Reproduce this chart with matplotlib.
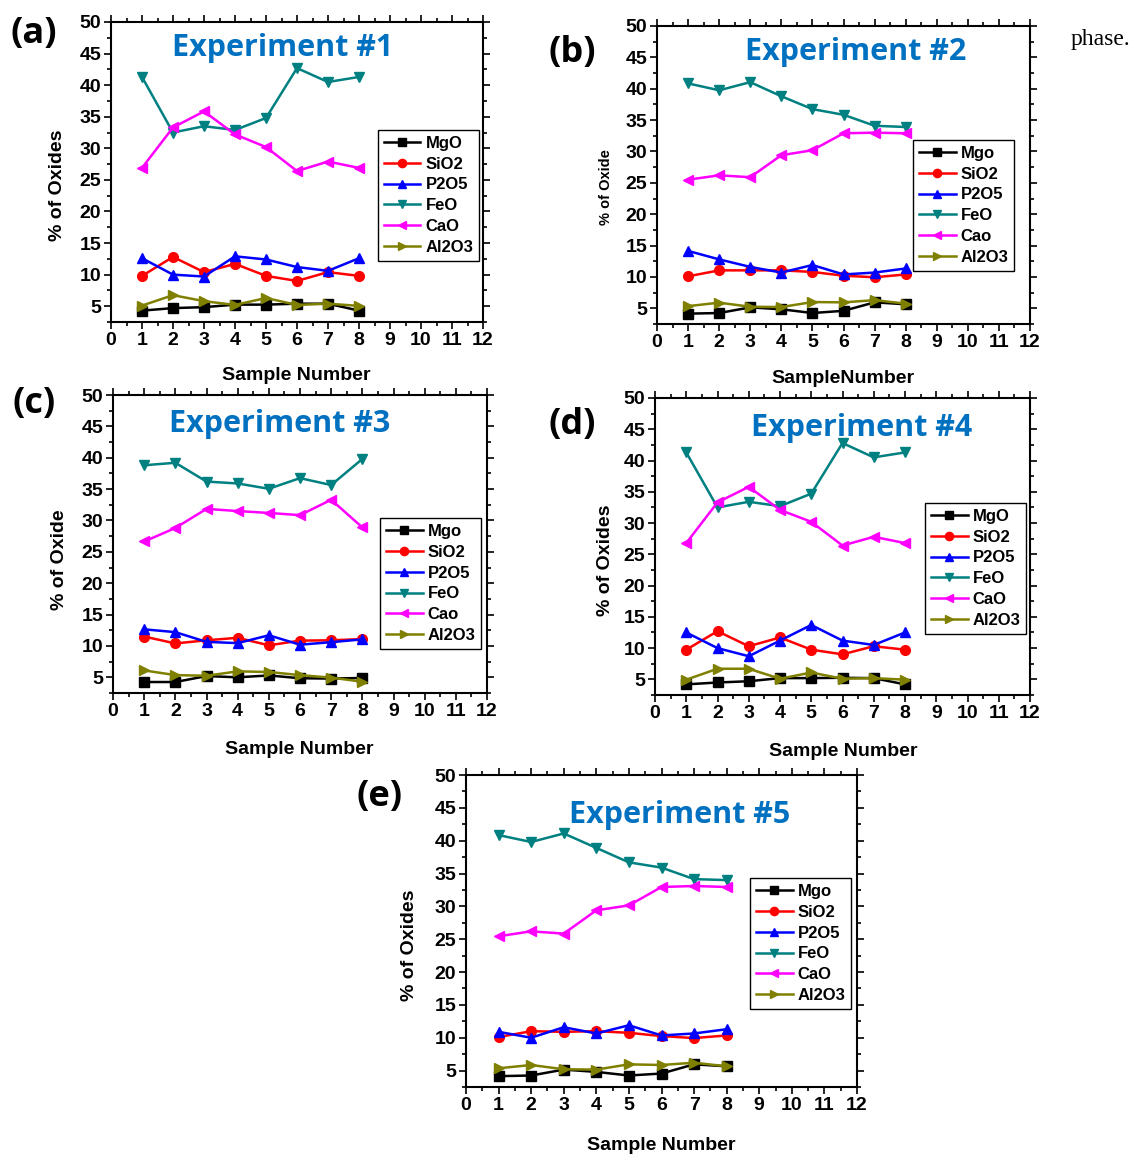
import matplotlib
matplotlib.use('Agg')
import matplotlib.pyplot as plt
from matplotlib.ticker import MultipleLocator

plt.rcParams['font.family'] = 'Liberation Sans'
plt.rcParams['font.weight'] = 'bold'

samples = [1, 2, 3, 4, 5, 6, 7, 8]

# Experiment 1
e1_mgo = [4.3, 4.7, 4.85, 5.25, 5.25, 5.4, 5.4, 4.3]
e1_sio2 = [9.8, 12.8, 10.4, 11.7, 9.8, 9.0, 10.4, 9.8]
e1_p2o5 = [12.6, 10.0, 9.7, 12.9, 12.4, 11.2, 10.6, 12.6]
e1_feo = [41.3, 32.5, 33.5, 32.9, 34.8, 42.7, 40.5, 41.3]
e1_cao = [26.9, 33.3, 35.85, 32.2, 30.2, 26.4, 27.9, 26.9]
e1_al2o3 = [5.1, 6.75, 5.8, 5.2, 6.3, 5.2, 5.4, 5.05]

# Experiment 2
e2_mgo = [4.15, 4.25, 5.15, 4.85, 4.25, 4.6, 5.95, 5.65]
e2_sio2 = [10.1, 11.05, 11.05, 11.05, 10.8, 10.2, 9.95, 10.4]
e2_p2o5 = [14.15, 12.8, 11.6, 10.7, 11.9, 10.4, 10.7, 11.35]
e2_feo = [40.85, 39.75, 41.05, 38.8, 36.75, 35.85, 34.1, 33.9]
e2_cao = [25.5, 26.2, 25.9, 29.4, 30.2, 32.9, 33.0, 32.9]
e2_al2o3 = [5.35, 5.9, 5.25, 5.2, 6.0, 5.95, 6.3, 5.75]

# Experiment 3
e3_mgo = [4.25, 4.25, 5.2, 5.0, 5.3, 4.85, 4.8, 4.9]
e3_sio2 = [11.5, 10.4, 10.9, 11.3, 10.1, 10.85, 10.9, 11.1]
e3_p2o5 = [12.65, 12.2, 10.65, 10.45, 11.7, 10.2, 10.6, 11.05]
e3_feo = [38.8, 39.2, 36.2, 35.9, 35.05, 36.75, 35.65, 39.8]
e3_cao = [26.65, 28.8, 31.85, 31.5, 31.2, 30.85, 33.3, 28.9]
e3_al2o3 = [6.1, 5.35, 5.25, 5.95, 5.85, 5.35, 4.95, 4.3]

# Experiment 4
e4_mgo = [4.2, 4.5, 4.7, 5.2, 5.2, 5.25, 5.2, 4.2]
e4_sio2 = [9.75, 12.7, 10.3, 11.7, 9.75, 9.0, 10.3, 9.75]
e4_p2o5 = [12.5, 10.0, 8.7, 11.2, 13.7, 11.2, 10.5, 12.5]
e4_feo = [41.3, 32.5, 33.4, 32.7, 34.7, 42.8, 40.5, 41.3]
e4_cao = [26.8, 33.3, 35.8, 32.1, 30.2, 26.4, 27.8, 26.8]
e4_al2o3 = [4.95, 6.7, 6.7, 5.1, 6.1, 5.1, 5.2, 4.95]

# Experiment 5
e5_mgo = [4.15, 4.25, 5.15, 4.8, 4.25, 4.55, 5.95, 5.65]
e5_sio2 = [10.1, 11.0, 10.9, 11.0, 10.75, 10.25, 9.95, 10.35]
e5_p2o5 = [10.9, 10.0, 11.6, 10.65, 11.9, 10.35, 10.65, 11.3]
e5_feo = [40.85, 39.8, 41.1, 38.9, 36.7, 35.9, 34.15, 34.0]
e5_cao = [25.45, 26.2, 25.85, 29.4, 30.15, 32.95, 33.1, 32.95]
e5_al2o3 = [5.35, 5.85, 5.2, 5.15, 5.95, 5.85, 6.2, 5.65]

colors = ['black', 'red', 'blue', '#008080', 'magenta', '#808000']
markers = ['s', 'o', '^', 'v', '<', '>']

W, H = 1141, 1157
fig = plt.figure(figsize=(W / 100, H / 100), dpi=100)


def fx(px):
    return px / W


def fy(py):
    return 1 - py / H


def make_panel(box, series, names, letter, letter_xy, title, title_xy,
               ylabel, ylabel_xy, ylabel_size, xlabel, xlabel_xy, leg_xy):
    left, top, right, bottom = box
    ax = fig.add_axes([fx(left), fy(bottom), fx(right - left), (bottom - top) / H])
    for vals, name, c, m in zip(series, names, colors, markers):
        ax.plot(samples, vals, color=c, marker=m, markersize=7, lw=1.8, label=name)
    ax.set_xlim(0, 12)
    ax.set_ylim(2.5, 50)
    ax.xaxis.set_major_locator(MultipleLocator(1))
    ax.xaxis.set_minor_locator(MultipleLocator(0.5))
    ax.yaxis.set_minor_locator(MultipleLocator(2.5))
    ax.set_yticks(range(5, 51, 5))
    ax.tick_params(which='both', direction='out', labelsize=14, width=1.2, pad=2)
    ax.tick_params(which='major', length=5)
    ax.tick_params(which='minor', length=3)
    ax.tick_params(which='both', top=True, right=True)
    for lab in ax.get_xticklabels() + ax.get_yticklabels():
        lab.set_fontweight('bold')
    for s in ax.spines.values():
        s.set_linewidth(1.5)
    leg = ax.legend(loc='upper left', bbox_to_anchor=(fx(leg_xy[0]), fy(leg_xy[1])),
                    bbox_transform=fig.transFigure, fancybox=False, framealpha=1,
                    edgecolor='black', prop={'weight': 'bold', 'size': 12},
                    handlelength=2.2, handletextpad=0.3, labelspacing=0.35,
                    borderpad=0.35, borderaxespad=0, markerscale=0.85)
    leg.get_frame().set_linewidth(1.0)
    fig.text(fx(letter_xy[0]), fy(letter_xy[1]), letter, fontsize=26,
             fontweight='bold', family='Open Sans', ha='center', va='center')
    fig.text(fx(title_xy[0]), fy(title_xy[1]), title, fontsize=22,
             fontweight='bold', family='Open Sans', color='#0070C0',
             ha='center', va='center')
    fig.text(fx(ylabel_xy[0]), fy(ylabel_xy[1]), ylabel, fontsize=ylabel_size,
             fontweight='bold', rotation=90, ha='center', va='center')
    fig.text(fx(xlabel_xy[0]), fy(xlabel_xy[1]), xlabel, fontsize=14,
             fontweight='bold', ha='center', va='center')
    return ax


make_panel((111, 22, 483, 322),
           [e1_mgo, e1_sio2, e1_p2o5, e1_feo, e1_cao, e1_al2o3],
           ['MgO', 'SiO2', 'P2O5', 'FeO', 'CaO', 'Al2O3'],
           '(a)', (34, 34), 'Experiment #1', (283, 48),
           '% of Oxides', (58, 185), 14, 'Sample Number', (296, 376), (378, 130))

make_panel((657, 26, 1030, 324),
           [e2_mgo, e2_sio2, e2_p2o5, e2_feo, e2_cao, e2_al2o3],
           ['Mgo', 'SiO2', 'P2O5', 'FeO', 'Cao', 'Al2O3'],
           '(b)', (572, 53), 'Experiment #2', (856, 52),
           '% of Oxide', (606, 187), 10.5, 'SampleNumber', (843, 379), (913, 140))

make_panel((113, 395, 487, 693),
           [e3_mgo, e3_sio2, e3_p2o5, e3_feo, e3_cao, e3_al2o3],
           ['Mgo', 'SiO2', 'P2O5', 'FeO', 'Cao', 'Al2O3'],
           '(c)', (34, 404), 'Experiment #3', (280, 424),
           '% of Oxide', (60, 560), 14, 'Sample Number', (299, 749), (380, 518))

make_panel((655, 398, 1030, 695),
           [e4_mgo, e4_sio2, e4_p2o5, e4_feo, e4_cao, e4_al2o3],
           ['MgO', 'SiO2', 'P2O5', 'FeO', 'CaO', 'Al2O3'],
           '(d)', (572, 425), 'Experiment #4', (862, 428),
           '% of Oxides', (605, 560), 14, 'Sample Number', (843, 751), (925, 503))

make_panel((466, 775, 857, 1087),
           [e5_mgo, e5_sio2, e5_p2o5, e5_feo, e5_cao, e5_al2o3],
           ['Mgo', 'SiO2', 'P2O5', 'FeO', 'CaO', 'Al2O3'],
           '(e)', (380, 797), 'Experiment #5', (680, 815),
           '% of Oxides', (410, 945), 14, 'Sample Number', (661, 1145), (750, 878))

fig.text(fx(1100), fy(40), 'phase.', fontsize=17, family='Liberation Serif',
         fontweight='normal', ha='center', va='center')

fig.savefig('out.png', dpi=100)
